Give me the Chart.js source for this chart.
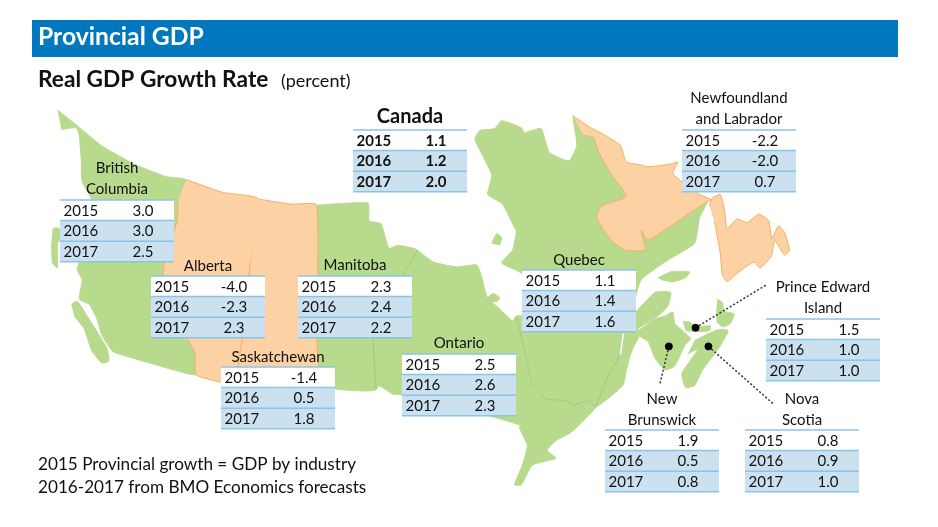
<!DOCTYPE html>
<html>
<head>
<meta charset="utf-8">
<style>
  html, body { margin: 0; padding: 0; background: #fff; }
  #wrap { width: 938px; height: 527px; }
</style>
<script src="https://cdn.jsdelivr.net/npm/chart.js@4"></script>
</head>
<body>
<div id="wrap"><canvas id="chart" width="938" height="527"></canvas></div>
<script>
// table data
const years = ['2015', '2016', '2017'];
const canada = [1.1, 1.2, 2.0];
const britishColumbia = [3.0, 3.0, 2.5];
const alberta = [-4.0, -2.3, 2.3];
const saskatchewan = [-1.4, 0.5, 1.8];
const manitoba = [2.3, 2.4, 2.2];
const ontario = [2.5, 2.6, 2.3];
const quebec = [1.1, 1.4, 1.6];
const newfoundland = [-2.2, -2.0, 0.7];
const pei = [1.5, 1.0, 1.0];
const newBrunswick = [1.9, 0.5, 0.8];
const novaScotia = [0.8, 0.9, 1.0];

// map outlines, in map units
const bcShape = [[53,107],[73,123],[97,143],[130,162],[163,175],[183,178],[175,200],[174,220],[162,260],[160,273],[170,305],[183,337],[192,355],[193,377],[150,366],[110,354],[107,351],[98,337],[93,320],[85,305],[75,300],[78,280],[73,270],[75,262],[80,230],[88,200],[85,193],[78,180],[77,157],[75,133],[72,125],[57,127]];
const vancouverIsland = [[67,305],[73,302],[85,320],[93,333],[103,350],[105,363],[98,365],[88,353],[80,330],[70,317]];
const haidaGwaii = [[48,228],[53,227],[60,233],[53,243],[53,268],[48,263],[47,243]];
const albertaShape = [[183,178],[220,191],[257,198],[248,263],[240,339],[237,359],[236,388],[220,385],[193,377],[192,355],[183,337],[170,305],[160,273],[162,260],[174,220],[175,200]];
const saskShape = [[257,198],[290,203],[315,204],[315,339],[315,390],[236,388],[237,359],[240,339],[248,263]];
const manitobaShape = [[315,204],[367,202],[368,220],[380,223],[388,248],[397,245],[417,250],[402,275],[372,340],[375,392],[315,390]];
const ontarioShape = [[417,250],[433,262],[457,267],[477,265],[482,278],[487,297],[500,310],[513,322],[517,317],[533,387],[547,402],[567,403],[575,408],[590,403],[597,410],[573,435],[557,444],[548,454],[557,462],[533,469],[522,489],[515,489],[523,469],[528,449],[520,430],[538,433],[537,438],[520,428],[483,417],[402,397],[393,397],[378,388],[375,392],[372,340],[402,275]];
const akimiski = [[487,299],[493,294],[500,298],[498,302],[490,302]];
const akpatok = [[492,243],[497,233],[502,237],[500,245]];
const quebecShape = [[517,317],[524,316],[524,275],[502,263],[513,250],[517,230],[515,227],[503,203],[488,193],[492,173],[475,137],[480,128],[495,126],[502,118],[522,125],[525,130],[542,126],[550,150],[570,159],[578,143],[574,113],[585,133],[595,135],[600,150],[613,173],[628,195],[603,205],[598,217],[613,240],[627,250],[647,250],[643,230],[650,240],[710,200],[702,217],[697,243],[670,260],[643,280],[635,307],[635,315],[657,293],[673,293],[670,307],[660,317],[640,330],[640,340],[636,347],[632,357],[628,373],[625,387],[617,395],[597,410],[590,403],[575,408],[567,403],[547,402],[533,387]];
const anticosti = [[660,278],[673,272],[692,272],[688,278],[675,282],[663,280]];
const labradorShape = [[574,113],[592,125],[607,133],[622,143],[628,160],[643,163],[650,165],[673,162],[680,160],[675,172],[700,192],[715,199],[710,200],[650,240],[643,230],[647,250],[627,250],[613,240],[598,217],[603,205],[628,195],[613,173],[600,150],[595,135],[585,133]];
const newfoundlandShape = [[712,205],[715,197],[723,193],[727,207],[730,228],[740,218],[750,222],[762,213],[772,220],[775,238],[782,225],[788,232],[793,250],[788,255],[778,240],[775,255],[770,262],[763,268],[757,262],[742,272],[730,282],[725,275],[723,253],[717,220]];
const nbShape = [[640,332],[657,320],[667,317],[675,313],[677,325],[685,332],[693,340],[687,347],[677,368],[667,372],[657,360],[650,343],[640,337]];
const nsShape = [[697,342],[720,331],[731,332],[722,349],[705,372],[697,388],[688,390],[684,376],[693,362],[701,350],[690,356]];
const peiShape = [[685,323],[692,323],[698,328],[713,327],[712,332],[700,333],[688,332]];
const capeBreton = [[720,300],[725,303],[727,312],[737,315],[733,325],[725,328],[720,323],[719,310]];

// inner borders and leader lines
const manOntBorder = [[417,250],[402,275],[372,340],[375,392]];
const ontQueBorder = [[517,317],[533,387],[547,402],[567,403],[575,408],[590,403],[597,410]];
const queNbBorder = [[622,357],[610,377],[597,410]];
const stLawrence = [[625,335],[622,357]];
const peiLeader = [[698,329],[770,285]];
const nbLeader = [[671,348],[662,386]];
const nsLeader = [[711,348],[777,407]];
const leaderDots = [[698,329],[671,348],[711,348]];

const GREEN = '#b8da8c';
const GREEN_LINE = '#9fcc72';
const ORANGE = '#fcd1a3';
const ORANGE_LINE = '#f8ad62';
const ROW_BLUE = '#cbe1f0';
const RULE_BLUE = '#8cc3e8';
const FONT = 'Lato, sans-serif';

const toPts = arr => arr.map(p => ({ x: p[0], y: p[1] }));
const land = (arr, fillCol, lineCol) => ({
    data: toPts(arr),
    showLine: true,
    fill: 'shape',
    backgroundColor: fillCol,
    borderColor: lineCol,
    borderWidth: 1,
    pointRadius: 0,
    tension: 0.15
});
const line = (arr, col, w, dash) => ({
    data: toPts(arr),
    showLine: true,
    fill: false,
    borderColor: col,
    borderWidth: w,
    borderDash: dash || [],
    pointRadius: 0
});

const tables = [
    { values: canada, x: 353, y: 130, bold: true, title: ['Canada'], titleY: 117 },
    { values: britishColumbia, x: 60, y: 200, title: ['British', 'Columbia'], titleY: 168 },
    { values: alberta, x: 151, y: 276, title: ['Alberta'], titleY: 266 },
    { values: manitoba, x: 298, y: 276, title: ['Manitoba'], titleY: 265 },
    { values: saskatchewan, x: 221, y: 367, title: ['Saskatchewan'], titleY: 357 },
    { values: ontario, x: 402, y: 354, title: ['Ontario'], titleY: 343 },
    { values: quebec, x: 522, y: 270, title: ['Quebec'], titleY: 260 },
    { values: newfoundland, x: 682, y: 130, title: ['Newfoundland', 'and Labrador'], titleY: 98 },
    { values: pei, x: 766, y: 319, title: ['Prince Edward', 'Island'], titleY: 287 },
    { values: newBrunswick, x: 605, y: 430, title: ['New', 'Brunswick'], titleY: 399 },
    { values: novaScotia, x: 745, y: 430, title: ['Nova', 'Scotia'], titleY: 399 }
];

const pageText = {
    id: 'pageText',
    afterDatasetsDraw(chart) {
        const c = chart.ctx;
        c.save();
        c.textBaseline = 'middle';

        // banner
        c.fillStyle = '#0077bf';
        c.fillRect(32, 20, 866, 37);
        c.fillStyle = '#fff';
        c.textAlign = 'left';
        c.font = 'bold 24.7px ' + FONT;
        c.fillText('Provincial GDP', 38, 37);

        c.fillStyle = '#111';
        c.font = 'bold 22.7px ' + FONT;
        c.fillText('Real GDP Growth Rate', 38, 80);
        c.font = '18px ' + FONT;
        c.fillText('(percent)', 281, 81);

        c.font = '17.15px ' + FONT;
        c.fillText('2015 Provincial growth = GDP by industry', 38, 464);
        c.fillText('2016-2017 from BMO Economics forecasts', 38, 487);

        tables.forEach(t => {
            const w = 114, rowH = 20.6;
            c.fillStyle = '#fff';
            c.fillRect(t.x, t.y, w, rowH);
            c.fillStyle = ROW_BLUE;
            c.fillRect(t.x, t.y + rowH, w, rowH * 2);
            c.strokeStyle = RULE_BLUE;
            c.lineWidth = 1.5;
            for (let i = 0; i <= 3; i++) {
                c.beginPath();
                c.moveTo(t.x, t.y + rowH * i);
                c.lineTo(t.x + w, t.y + rowH * i);
                c.stroke();
            }
            c.fillStyle = '#111';
            years.forEach((yr, i) => {
                const ty = t.y + rowH * i + rowH / 2 + 0.5;
                c.font = (t.bold ? 'bold ' : '') + '15px ' + FONT;
                c.textAlign = 'left';
                c.fillText(yr, t.x + 3.5, ty);
                c.textAlign = 'center';
                c.fillText(t.values[i].toFixed(1), t.x + 83, ty);
            });
            c.textAlign = 'center';
            c.font = t.bold ? 'bold 20px ' + FONT : '15px ' + FONT;
            t.title.forEach((s, i) => c.fillText(s, t.x + 57, t.titleY + i * 21));
        });
        c.restore();
    }
};

// chart.js paints the first dataset last, so flip the list to keep this order bottom to top
const layers = [
    land(bcShape, GREEN, GREEN),
    land(vancouverIsland, GREEN, GREEN),
    land(haidaGwaii, GREEN, GREEN),
    land(manitobaShape, GREEN, GREEN),
    land(ontarioShape, GREEN, GREEN),
    land(akimiski, GREEN, GREEN),
    land(akpatok, GREEN, GREEN),
    land(quebecShape, GREEN, GREEN),
    land(anticosti, GREEN, GREEN),
    land(nbShape, GREEN, GREEN),
    land(nsShape, GREEN, GREEN),
    land(peiShape, GREEN, GREEN),
    land(capeBreton, GREEN, GREEN),
    land(albertaShape, ORANGE, ORANGE_LINE),
    land(saskShape, ORANGE, ORANGE_LINE),
    land(labradorShape, ORANGE, ORANGE_LINE),
    land(newfoundlandShape, ORANGE, ORANGE_LINE),
    line(manOntBorder, GREEN_LINE, 1),
    line(ontQueBorder, GREEN_LINE, 1),
    line(queNbBorder, GREEN_LINE, 1),
    line(stLawrence, '#ffffff', 1.5),
    line(peiLeader, '#333', 1.5, [2, 2]),
    line(nbLeader, '#333', 1.5, [2, 2]),
    line(nsLeader, '#333', 1.5, [2, 2]),
    { data: toPts(leaderDots), showLine: false, pointRadius: 3.5, backgroundColor: '#000', borderColor: '#000' }
];

new Chart(document.getElementById('chart'), {
    type: 'scatter',
    data: { datasets: layers.reverse() },
    options: {
        responsive: false,
        animation: false,
        layout: { padding: 0 },
        plugins: { legend: { display: false }, tooltip: { enabled: false }, title: { display: false } },
        scales: {
            x: { type: 'linear', display: false, min: 0, max: 938 },
            y: { type: 'linear', display: false, min: 0, max: 527, reverse: true }
        }
    },
    plugins: [pageText]
});
</script>
</body>
</html>
